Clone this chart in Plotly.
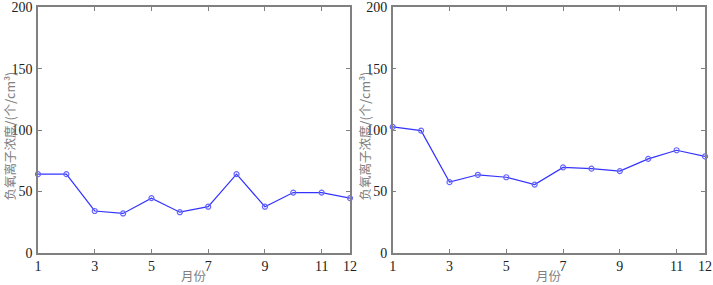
import plotly.graph_objects as go

months = list(range(1, 13))
left_vals = [64, 64, 34, 32, 44.5, 33, 37.5, 64, 37.5, 49, 49, 44.5]
right_vals = [102.5, 99.5, 57.5, 63.5, 61.5, 55.5, 69.5, 68.5, 66.5, 76.5, 83.5, 78.5]
x_ticks = [1, 3, 5, 7, 9, 11, 12]
y_ticks = [0, 50, 100, 150, 200]
y_title = "负氧离子浓度/(个/cm³)"
x_title = "月份"

W, H = 713, 285
fig = go.Figure()
line_color = "#3333ff"
for i, vals in enumerate([left_vals, right_vals]):
    fig.add_trace(go.Scatter(
        x=months, y=vals, mode="lines+markers",
        line=dict(color=line_color, width=1.2),
        marker=dict(symbol="circle-open", size=5, color="#6666ff", line=dict(width=1.2)),
        xaxis="x" if i == 0 else "x2", yaxis="y" if i == 0 else "y2",
        showlegend=False, cliponaxis=False,
    ))

xd1 = [38 / W, 350 / W]
xd2 = [392.7 / W, 705 / W]
yd = [(H - 252.7) / H, (H - 7.3) / H]
axcol = "#808080"
tickfont = dict(family="Liberation Serif", size=14, color="#222222")
common_x = dict(range=[1, 12], tickvals=x_ticks, ticks="inside", ticklen=4, tickcolor=axcol,
                showline=True, linecolor=axcol, linewidth=1.5, mirror="ticks",
                showgrid=False, zeroline=False, tickfont=tickfont, automargin=False)
common_y = dict(range=[0, 200], tickvals=y_ticks, ticks="inside", ticklen=4, tickcolor=axcol,
                showline=True, linecolor=axcol, linewidth=1.5, mirror="ticks",
                showgrid=False, zeroline=False, tickfont=tickfont, ticklabelstandoff=1,
                automargin=False)
fig.update_layout(
    width=W, height=H, margin=dict(l=0, r=0, t=0, b=0),
    paper_bgcolor="white", plot_bgcolor="white",
    xaxis=dict(domain=xd1, anchor="y", **common_x),
    yaxis=dict(domain=yd, anchor="x", **common_y),
    xaxis2=dict(domain=xd2, anchor="y2", **common_x),
    yaxis2=dict(domain=yd, anchor="x2", **common_y),
)
tfont = dict(family="Noto Sans CJK SC", size=12.5, color="#808080")
for xc, ycx in [((38 + 350) / 2, 8.5), ((392.7 + 705) / 2, 363.5)]:
    fig.add_annotation(text=x_title, x=xc / W, y=(H - 275.5) / H, xref="paper", yref="paper",
                       showarrow=False, font=tfont, xanchor="center", yanchor="middle")
    fig.add_annotation(text=y_title, x=ycx / W, y=(H - 136) / H, xref="paper", yref="paper",
                       showarrow=False, font=tfont, textangle=-90, xanchor="center", yanchor="middle")
fig.write_html("out.html", config={"displayModeBar": False},
               post_script="document.body.style.margin='0';document.body.style.overflow='hidden';")
